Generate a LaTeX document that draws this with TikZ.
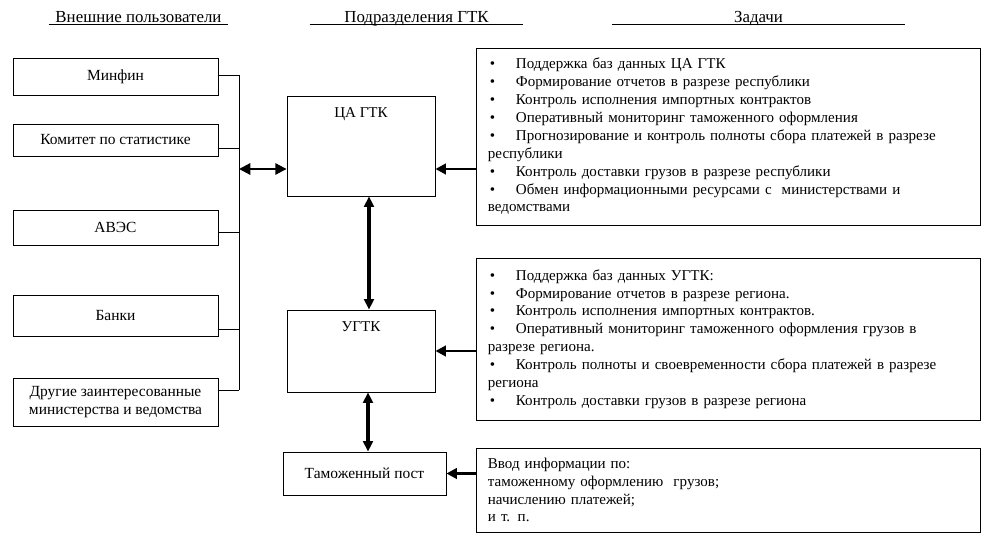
\documentclass[tikz,border=0pt]{standalone}
\usepackage{fontspec}
\setmainfont{Liberation Serif}
\usetikzlibrary{arrows.meta}

\tikzstyle{box} = [draw, line width=0.6pt, inner sep=0pt, align=center, font=\fontsize{11}{13}\selectfont]
\tikzstyle{user} = [box, minimum width=5.125cm]
\tikzstyle{unit} = [box, minimum width=3.7cm]
\tikzstyle{task} = [draw, line width=0.6pt, inner xsep=8.5pt, inner ysep=0pt, text width=12cm, align=left]
\tikzstyle{head} = [anchor=south, inner sep=0.5pt, text depth=0.5pt, font=\fontsize{12}{14}\selectfont]
\tikzstyle{link} = [line width=0.6pt]
\tikzstyle{arr} = [line width=2pt, -{Triangle[length=7.5pt,width=7.5pt]}]
\tikzstyle{dblarr} = [line width=1.5pt, {Triangle[length=8pt,width=8pt]}-{Triangle[length=8pt,width=8pt]}]
\tikzstyle{vertarr} = [line width=2.2pt, {Triangle[length=7.5pt,width=7pt]}-{Triangle[length=7.5pt,width=7pt]}]

\newcommand{\bul}{\makebox[0.7cm][l]{\hspace{0.05cm}\textbullet}}

\begin{document}
\begin{tikzpicture}[x=0.025cm, y=-0.025cm, font=\fontsize{10.7}{12.7}\selectfont]
\useasboundingbox (0,0) rectangle (1002,551);

% headers
\node[head, minimum width=4.475cm] (hUsers) at (138.5,24) {Внешние пользователи};
\node[head, minimum width=5.325cm] (hUnits) at (416.5,24) {Подразделения ГТК};
\node[head, minimum width=7.325cm] (hTasks) at (758.5,24) {Задачи};
\foreach \h in {hUsers, hUnits, hTasks}
    \draw[link] (\h.south west) -- (\h.south east);

% external users
\node[user, minimum height=0.925cm] (minfin) at (115.5,76.5) {Минфин};
\node[user, minimum height=0.8cm] (stat) at (115.5,140) {Комитет по статистике};
\node[user, minimum height=0.875cm] (aves) at (115.5,227.5) {АВЭС};
\node[user, minimum height=1.025cm] (banks) at (115.5,315.5) {Банки};
\node[user, minimum height=1.2cm] (other) at (115.5,402)
    {Другие заинтересованные\\министерства и ведомства};

% bus
\coordinate (b0) at (239,169);
\coordinate (b1) at (239,75);
\coordinate (b2) at (239,148);
\coordinate (b3) at (239,232);
\coordinate (b4) at (239,329);
\coordinate (b5) at (239,390);
\draw[link] (b1) -- (b5);
\foreach \u/\b in {minfin/b1, stat/b2, aves/b3, banks/b4, other/b5}
    \draw[link] (\u.east |- \b) -- (\b);

% units
\node[unit, minimum height=2.5cm,
    label={[anchor=north, yshift=-5pt]north:ЦА ГТК}] (ca) at (361,146) {};
\node[unit, minimum height=2.05cm,
    label={[anchor=north, yshift=-5pt]north:УГТК}] (ugtk) at (361,351) {};
\node[box, minimum width=4.075cm, minimum height=1.075cm] (post) at (364.5,473.5)
    {Таможенный пост};

% tasks
\node[task, minimum height=4.425cm] (task1) at (728,136.5) {%
\bul Поддержка баз данных ЦА ГТК\\
\bul Формирование отчетов в разрезе республики\\
\bul Контроль исполнения импортных контрактов\\
\bul Оперативный мониторинг таможенного оформления\\
\bul Прогнозирование и контроль полноты сбора платежей в разрезе\\
республики\\
\bul Контроль доставки грузов в разрезе республики\\
\bul Обмен информационными ресурсами с\ \ министерствами и\\
ведомствами};
\node[task, minimum height=4.05cm] (task2) at (728,339) {%
\bul Поддержка баз данных УГТК:\\
\bul Формирование отчетов в разрезе региона.\\
\bul Контроль исполнения импортных контрактов.\\
\bul Оперативный мониторинг таможенного оформления грузов в\\
разрезе региона.\\
\bul Контроль полноты и своевременности сбора платежей в разрезе\\
региона\\
\bul Контроль доставки грузов в разрезе региона};
\node[task, minimum height=2.1cm] (task3) at (728,490) {%
Ввод информации по:\\
таможенному оформлению\ \ грузов;\\
начислению платежей;\\
и т. п.};

% arrows
\draw[dblarr] (b0) -- (b0 -| ca.west);
\draw[arr] (task1.west |- b0) -- (ca.east |- b0);
\draw[arr] (task2.west |- ugtk.east) -- (ugtk.east);
\draw[arr] (task3.west |- post.east) -- (post.east);
\draw[vertarr] ([xshift=5.7pt]ca.south) -- ([xshift=5.7pt]ugtk.north);
\draw[vertarr] ([xshift=2.5pt]post.north |- ugtk.south) -- ([xshift=2.5pt]post.north);
\end{tikzpicture}
\end{document}
